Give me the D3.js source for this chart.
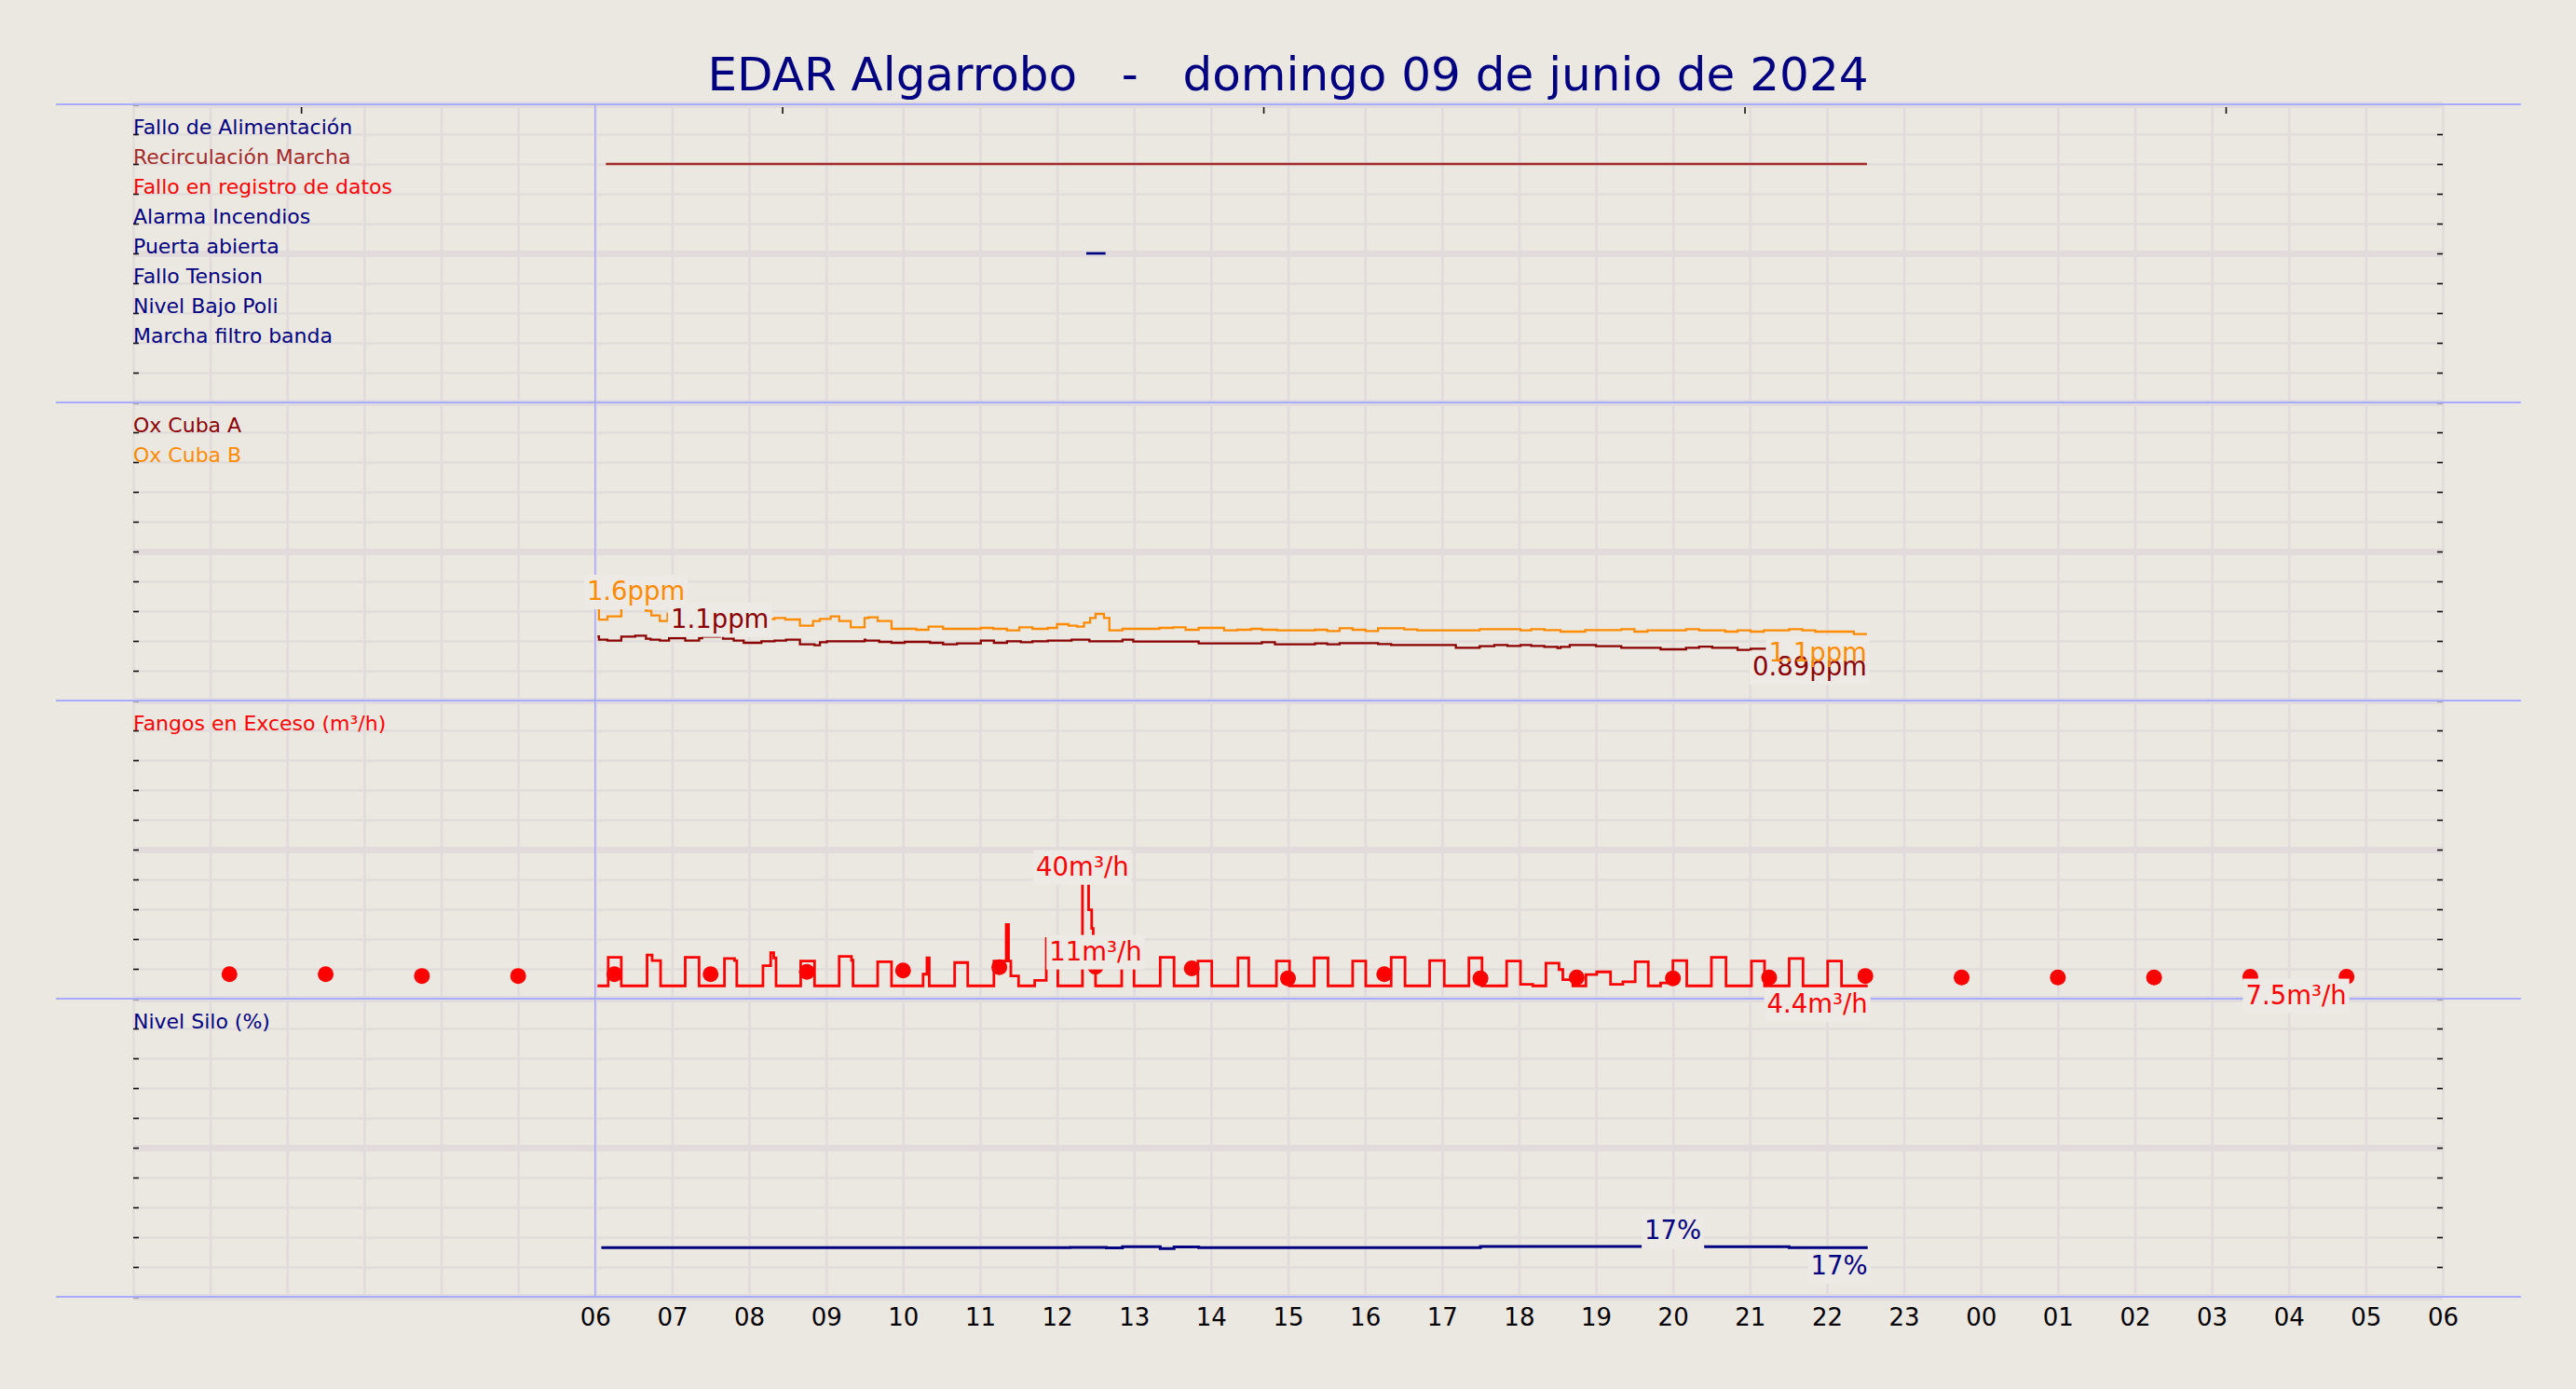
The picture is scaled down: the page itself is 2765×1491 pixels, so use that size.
<!DOCTYPE html>
<html>
<head>
<meta charset="utf-8">
<script src="https://cdn.jsdelivr.net/npm/d3@7"></script>
<style>
    html, body { margin: 0; padding: 0; background: #ebe7e1; }
    svg { display: block; font-family: 'DejaVu Sans', sans-serif; }
</style>
</head>
<body>
<div id="chart"></div>
<script>
/* global d3*/

/* -----------------    DATA     ------------------ */

const titleText = 'EDAR Algarrobo   -   domingo 09 de junio de 2024';

// hours from 00:00 of the day, axis runs to 06:00 next day
const xTickHours = [6, 7, 8, 9, 10, 11, 12, 13, 14, 15, 16, 17, 18, 19, 20, 21, 22, 23, 24, 25, 26, 27, 28, 29, 30];
const xTickLabels = ['06', '07', '08', '09', '10', '11', '12', '13', '14', '15', '16', '17', '18',
    '19', '20', '21', '22', '23', '00', '01', '02', '03', '04', '05', '06'];
const topTickHours = [2.18, 8.43, 14.68, 20.93, 27.18];

const statusLabels = ['Fallo de Alimentación', 'Recirculación Marcha', 'Fallo en registro de datos',
    'Alarma Incendios', 'Puerta abierta', 'Fallo Tension', 'Nivel Bajo Poli', 'Marcha filtro banda'];
const statusColors = ['#000080', '#a52a2a', '#ff0000', '#000080', '#000080', '#000080', '#000080', '#000080'];
// [row, start hour, end hour]
const statusBars = [[1, 6.14, 22.52], [4, 12.38, 12.63]];

const oxLabels = ['Ox Cuba A', 'Ox Cuba B'];
const oxCubaA = [[6.03, 1.10], [6.05, 1.045], [6.16, 1.029], [6.34, 1.099], [6.52, 1.115], [6.66, 1.061],
    [6.72, 1.045], [6.84, 1.029], [6.96, 1.072], [7.17, 1.029], [7.35, 1.072], [7.39, 1.10], [7.62, 1.14],
    [7.66, 1.061], [7.80, 1.029], [7.93, 0.992], [8.16, 1.019], [8.33, 1.029], [8.48, 1.045], [8.66, 0.965],
    [8.85, 0.949], [8.92, 1.003], [9.01, 1.019], [9.50, 1.045], [9.51, 1.029], [9.69, 1.008], [9.85, 0.992],
    [10.02, 1.008], [10.35, 0.992], [10.52, 0.965], [10.70, 0.981], [11.01, 1.029], [11.18, 0.992],
    [11.35, 1.019], [11.53, 1.003], [11.68, 1.019], [11.88, 1.029], [12.19, 1.045], [12.42, 1.019],
    [12.85, 1.045], [12.99, 1.013], [13.84, 0.981], [14.66, 1.003], [14.83, 0.965], [15.35, 0.981],
    [15.51, 0.965], [15.67, 0.987], [16.17, 0.971], [16.34, 0.955], [17.18, 0.905], [17.49, 0.933],
    [17.68, 0.955], [17.85, 0.939], [18.02, 0.955], [18.16, 0.939], [18.33, 0.923], [18.50, 0.901],
    [18.54, 0.923], [18.66, 0.955], [19.0, 0.933], [19.33, 0.905], [19.84, 0.88], [20.17, 0.905],
    [20.34, 0.925], [20.51, 0.905], [20.84, 0.87], [21.01, 0.89], [22.52, 0.89]];
const oxCubaB = [[6.03, 1.58], [6.05, 1.39], [6.16, 1.445], [6.34, 1.595], [6.53, 1.616], [6.57, 1.595],
    [6.66, 1.541], [6.73, 1.461], [6.84, 1.365], [6.94, 1.488], [7.01, 1.45], [7.5, 1.42], [8.0, 1.40],
    [8.33, 1.419], [8.47, 1.392], [8.66, 1.285], [8.83, 1.365], [8.92, 1.403], [9.06, 1.445], [9.17, 1.365],
    [9.32, 1.259], [9.50, 1.419], [9.55, 1.429], [9.67, 1.365], [9.85, 1.232], [10.17, 1.216], [10.33, 1.269],
    [10.52, 1.232], [11.01, 1.248], [11.17, 1.232], [11.35, 1.205], [11.51, 1.259], [11.68, 1.232],
    [11.88, 1.248], [12.0, 1.312], [12.15, 1.285], [12.26, 1.269], [12.35, 1.339], [12.43, 1.419],
    [12.50, 1.488], [12.61, 1.419], [12.68, 1.205], [12.85, 1.232], [13.33, 1.248], [13.51, 1.259],
    [13.67, 1.216], [13.84, 1.248], [14.17, 1.205], [14.34, 1.216], [14.52, 1.232], [14.66, 1.216],
    [14.86, 1.205], [15.35, 1.216], [15.51, 1.195], [15.67, 1.243], [15.84, 1.216], [16.01, 1.195],
    [16.17, 1.243], [16.51, 1.221], [16.68, 1.205], [17.49, 1.227], [18.02, 1.205], [18.16, 1.227],
    [18.33, 1.211], [18.54, 1.184], [18.86, 1.211], [19.33, 1.227], [19.50, 1.184], [19.67, 1.205],
    [20.17, 1.227], [20.34, 1.205], [20.68, 1.184], [20.84, 1.205], [21.01, 1.184], [21.18, 1.205],
    [21.51, 1.227], [21.68, 1.205], [21.85, 1.184], [22.35, 1.141], [22.52, 1.141]];

const fangosLabel = 'Fangos en Exceso (m³/h)';
const fangosStep = [[6.03, 4.4], [6.17, 14.2], [6.34, 4.4], [6.675, 15.0], [6.74, 13.1], [6.85, 4.4],
    [7.17, 14.2], [7.35, 4.4], [7.68, 13.8], [7.81, 13.1], [7.84, 4.4], [8.18, 11.3], [8.28, 15.8],
    [8.32, 14.0], [8.35, 4.4], [8.67, 12.9], [8.85, 4.4], [9.17, 14.5], [9.33, 13.2], [9.35, 4.4],
    [9.67, 12.7], [9.85, 4.4], [10.26, 8.4], [10.31, 14.0], [10.34, 4.4], [10.67, 12.4], [10.84, 4.4],
    [11.18, 12.9], [11.34, 25.5], [11.37, 12.9], [11.40, 7.8], [11.50, 4.4], [11.71, 6.3], [11.86, 20.7],
    [12.01, 4.4], [12.33, 40.1], [12.41, 30.5], [12.45, 24.1], [12.47, 12.0], [12.50, 4.4], [12.84, 13.0],
    [13.0, 4.4], [13.34, 14.2], [13.52, 4.4], [13.83, 12.9], [14.01, 4.4], [14.35, 14.0], [14.49, 4.4],
    [14.85, 12.9], [15.02, 4.4], [15.34, 14.0], [15.52, 4.4], [15.84, 12.9], [16.01, 4.4], [16.34, 14.2],
    [16.52, 4.4], [16.84, 13.1], [17.03, 4.4], [17.35, 14.0], [17.52, 4.4], [17.84, 12.9], [18.02, 4.9],
    [18.18, 4.4], [18.35, 12.2], [18.52, 10.0], [18.57, 6.5], [18.70, 4.4], [18.87, 8.3], [19.01, 9.2],
    [19.19, 4.9], [19.35, 5.8], [19.51, 12.7], [19.68, 4.4], [19.84, 5.4], [20.0, 13.1], [20.18, 4.4],
    [20.5, 14.2], [20.69, 4.4], [21.02, 12.9], [21.19, 4.4], [21.51, 13.8], [21.69, 4.4], [22.01, 12.9],
    [22.19, 4.4], [22.53, 4.4]];
const fangosDots = [[1.25, 8.4], [2.5, 8.4], [3.75, 7.8], [5.0, 7.8], [6.25, 8.4], [7.5, 8.4], [8.75, 9.2],
    [10.0, 9.7], [11.25, 10.8], [12.5, 11.0], [13.75, 10.4], [15.0, 7.0], [16.25, 8.4], [17.5, 7.0],
    [18.75, 7.3], [20.0, 7.0], [21.25, 7.3], [22.5, 7.8], [23.75, 7.3], [25.0, 7.3], [26.25, 7.3],
    [27.5, 7.5], [28.75, 7.5]];

const siloLabel = 'Nivel Silo (%)';
const siloLevel = [[6.08, 16.9], [12.17, 17.0], [12.64, 16.8], [12.85, 17.2], [13.34, 16.6], [13.52, 17.1],
    [13.84, 16.9], [17.5, 17.28], [19.64, 17.3], [20.0, 17.45], [20.1, 17.3], [20.39, 17.2], [21.51, 16.9],
    [22.53, 16.9]];

/* -----------------    SETTINGS     ------------------ */

const graphSettings = {
    width: 2765,
    height: 1491,
    left: 143,
    right: 2622,
    top: 112,
    bottom: 1392,
    rows: 40,
    sepLeft: 60,
    sepRight: 2706,

    colBg: '#ebe7e1',
    colGrid: '#e1dcdb',
    colBox: '#ede9e4',
    colSep: '#aaaaff',
    colNavy: '#000080',
    colBrown: '#a52a2a',
    colRed: '#ff0000',
    colDarkRed: '#8b0000',
    colOrange: '#ff8c00'
};

/* -----------------    LOGIC     ------------------ */

const s = graphSettings;

const svg = d3.select('#chart')
    .append('svg')
    .attr('width', s.width)
    .attr('height', s.height);

svg.append('rect')
    .attr('width', s.width)
    .attr('height', s.height)
    .attr('fill', s.colBg);

const x = d3.scaleLinear().domain([0, 30]).range([s.left, s.right]);
const yRow = d3.scaleLinear().domain([0, s.rows]).range([s.top, s.bottom]);

// each panel is 10 grid rows tall; value scales map 0 to the panel bottom
const panelScale = (panel, maxVal) => d3.scaleLinear()
    .domain([0, maxVal])
    .range([yRow((panel + 1) * 10), yRow(panel * 10)]);

const yOx = panelScale(1, 5.12);
const yFangos = panelScale(2, 102.4);
const ySilo = panelScale(3, 102.4);

// Grid
svg.append('g')
    .attr('transform', `translate(0,${ s.bottom })`)
    .call(d3.axisBottom(x).tickValues(d3.range(0, 31)).tickSize(-(s.bottom - s.top)).tickFormat(''))
    .call(g => g.select('.domain').remove())
    .call(g => g.selectAll('line').attr('stroke', s.colGrid).attr('stroke-width', 2.7));

svg.append('g')
    .attr('transform', `translate(${ s.left },0)`)
    .call(d3.axisLeft(yRow).tickValues(d3.range(0, s.rows + 1)).tickSize(-(s.right - s.left)).tickFormat(''))
    .call(g => g.select('.domain').remove())
    .call(g => g.selectAll('line')
        .attr('stroke', s.colGrid)
        .attr('stroke-width', d => (d % 5 === 0 ? 7 : 2.7)));

// Tick marks on the frame
svg.append('g')
    .attr('transform', `translate(${ s.left },0)`)
    .call(d3.axisLeft(yRow).tickValues(d3.range(0, s.rows + 1)).tickSize(-6).tickFormat(''))
    .call(g => g.select('.domain').remove())
    .call(g => g.selectAll('line').attr('stroke', '#111').attr('stroke-width', 1.6));

svg.append('g')
    .attr('transform', `translate(${ s.right },0)`)
    .call(d3.axisRight(yRow).tickValues(d3.range(1, s.rows)).tickSize(-6).tickFormat(''))
    .call(g => g.select('.domain').remove())
    .call(g => g.selectAll('line').attr('stroke', '#111').attr('stroke-width', 1.6));

svg.append('g')
    .attr('transform', `translate(0,${ s.top + 3 })`)
    .call(d3.axisTop(x).tickValues(topTickHours).tickSize(-7).tickFormat(''))
    .call(g => g.select('.domain').remove())
    .call(g => g.selectAll('line').attr('stroke', '#111').attr('stroke-width', 1.6));

// Panel separators and the 06:00 marker
svg.append('g')
    .selectAll('line')
    .data(d3.range(0, s.rows + 1, 10))
    .enter()
    .append('line')
    .attr('x1', s.sepLeft)
    .attr('x2', s.sepRight)
    .attr('y1', d => yRow(d))
    .attr('y2', d => yRow(d))
    .attr('stroke', s.colSep)
    .attr('stroke-width', 2);

svg.append('line')
    .attr('x1', x(6)).attr('x2', x(6))
    .attr('y1', s.top).attr('y2', s.bottom)
    .attr('stroke', s.colSep)
    .attr('stroke-width', 1.6);

// X axis labels
svg.append('g')
    .attr('transform', `translate(0,${ s.bottom })`)
    .call(d3.axisBottom(x).tickValues(xTickHours).tickSize(0).tickPadding(13)
        .tickFormat((d, i) => xTickLabels[i]))
    .call(g => g.select('.domain').remove())
    .call(g => g.selectAll('text')
        .attr('fill', '#000')
        .attr('font-size', 26)
        .attr('font-family', 'DejaVu Sans'));

// Title
svg.append('text')
    .attr('x', s.width / 2)
    .attr('y', 97)
    .attr('text-anchor', 'middle')
    .attr('font-size', 50)
    .attr('fill', s.colNavy)
    .style('white-space', 'pre')
    .text(titleText);

// Row labels
const rowLabel = (row, text, color) => {
    svg.append('text')
        .attr('x', s.left)
        .attr('y', yRow(row))
        .attr('font-size', 22)
        .attr('fill', color)
        .text(text);
};

statusLabels.forEach((label, i) => rowLabel(i + 1, label, statusColors[i]));
oxLabels.forEach((label, i) => rowLabel(11 + i, label, i === 0 ? s.colDarkRed : s.colOrange));
rowLabel(21, fangosLabel, s.colRed);
rowLabel(31, siloLabel, s.colNavy);

// Status bars
svg.append('g')
    .selectAll('line')
    .data(statusBars)
    .enter()
    .append('line')
    .attr('x1', d => x(d[1]))
    .attr('x2', d => x(d[2]))
    .attr('y1', d => yRow(d[0] + 1))
    .attr('y2', d => yRow(d[0] + 1))
    .attr('stroke', d => (d[0] === 1 ? s.colBrown : s.colNavy))
    .attr('stroke-width', 2.7);

// Series lines
const drawStep = (data, yScale, color, width) => {
    const line = d3.line()
        .x(d => x(d[0]))
        .y(d => yScale(d[1]))
        .curve(d3.curveStepAfter);
    svg.append('path')
        .datum(data)
        .attr('d', line)
        .attr('fill', 'none')
        .attr('stroke', color)
        .attr('stroke-width', width)
        .attr('stroke-linejoin', 'miter');
};

drawStep(oxCubaA, yOx, s.colDarkRed, 2.3);
drawStep(oxCubaB, yOx, s.colOrange, 2.3);
drawStep(fangosStep, yFangos, s.colRed, 2.8);
drawStep(siloLevel, ySilo, s.colNavy, 3);

svg.append('g')
    .selectAll('circle')
    .data(fangosDots)
    .enter()
    .append('circle')
    .attr('cx', d => x(d[0]))
    .attr('cy', d => yFangos(d[1]))
    .attr('r', 8.5)
    .attr('fill', s.colRed);

// Value labels: maximum above its point, last value below the end
const fmt = d3.format('.2r');
const boxLayer = svg.append('g');
const textLayer = svg.append('g');

const valueLabel = (px, baseline, text, color, anchor) => {
    const txt = textLayer.append('text')
        .attr('x', px)
        .attr('y', baseline)
        .attr('text-anchor', anchor)
        .attr('font-size', 27.5)
        .attr('fill', color)
        .text(text);
    const bb = txt.node().getBBox();
    boxLayer.append('rect')
        .attr('x', bb.x - 3)
        .attr('y', bb.y - 1)
        .attr('width', bb.width + 6)
        .attr('height', bb.height + 5)
        .attr('fill', s.colBox);
};

const labelSeries = (data, yScale, color, unit) => {
    const maxPt = d3.greatest(data, d => d[1]);
    const lastPt = data[data.length - 1];
    valueLabel(x(maxPt[0]), yScale(maxPt[1]) - 7, fmt(maxPt[1]) + unit, color, 'middle');
    valueLabel(x(lastPt[0]), yScale(lastPt[1]) + 29, fmt(lastPt[1]) + unit, color, 'end');
};

labelSeries(oxCubaA, yOx, s.colDarkRed, 'ppm');
labelSeries(oxCubaB, yOx, s.colOrange, 'ppm');
labelSeries(fangosStep, yFangos, s.colRed, 'm³/h');
labelSeries(fangosDots, yFangos, s.colRed, 'm³/h');
labelSeries(siloLevel, ySilo, s.colNavy, '%');
</script>
</body>
</html>
